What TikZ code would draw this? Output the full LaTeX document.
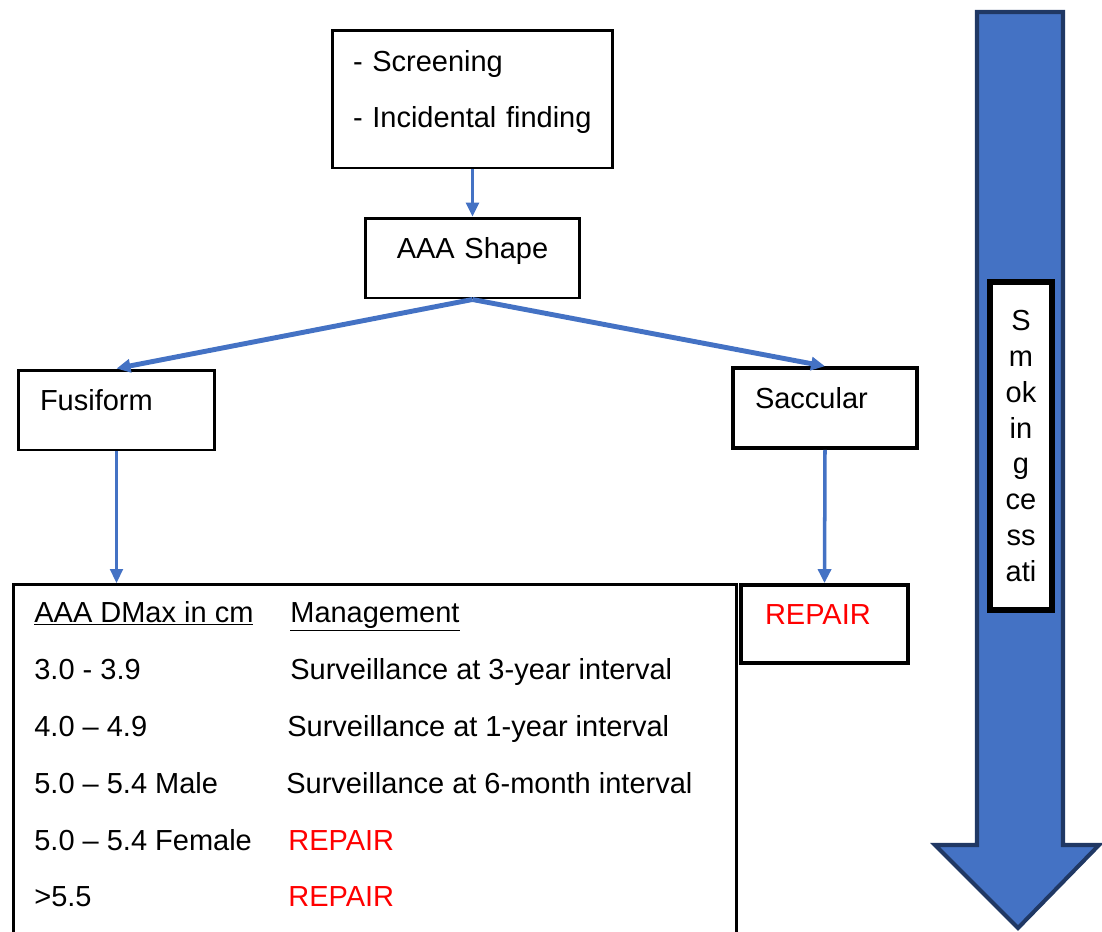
\documentclass[tikz,border=0pt]{standalone}
\usepackage{fontspec}
\setmainfont{Liberation Sans}
\usetikzlibrary{arrows.meta}
\definecolor{wordblue}{HTML}{4472C4}
\definecolor{navy}{HTML}{203864}
\newcommand\txt{\fontsize{16.5}{20}\selectfont}

\begin{document}
\begin{tikzpicture}[x=0.02cm, y=-0.02cm, font=\txt,
box/.style={draw, line width=1.7pt, inner xsep=0.44cm, inner ysep=0pt, align=left, text height=0.8cm, text depth=0.8cm},
link/.style={wordblue, line width=1.7pt, -{Triangle[length=0.28cm, width=0.26cm]}},
row/.style={anchor=base west, inner sep=0pt}]
\useasboundingbox (0,0) rectangle (1102,931);
\clip (0,0) rectangle (1102,931);

\node[draw, line width=1.7pt, inner xsep=0.42cm, align=left, text width=4.78cm, minimum height=2.76cm, text depth=1.52cm,
  font=\fontsize{16.5}{31.9}\selectfont] (top) at (472.5,99) {- Screening\\- Incidental finding};
\node[box, align=center, text width=3.42cm] (shape) at (472.5,258) {AAA Shape};
\node[box, text width=3.06cm] (fus) at (116.5,410) {Fusiform};
\node[box, line width=2pt, text width=2.8cm] (sac) at (825,408) {Saccular};
\node[box, line width=2.2pt, inner xsep=0.48cm, text width=2.38cm, text height=0.78cm, text depth=0.78cm] (rep) at (824.5,624) {\color{red}REPAIR};
\node[draw, line width=1.7pt, anchor=north west, minimum width=14.46cm, minimum height=7.6cm] (tbl) at (12,583) {};

\node[row] (h1) at (34,622) {\underline{AAA DMax in cm}};
\node[row] (h2) at (290,622) {\underline{Management}};
\node[row] (a1) at (34,679) {3.0 - 3.9};
\node[row] (b1) at (290,679) {Surveillance at 3-year interval};
\node[row] (a2) at (34,736) {4.0 – 4.9};
\node[row] (b2) at (287,736) {Surveillance at 1-year interval};
\node[row] (a3) at (34,793) {5.0 – 5.4 Male};
\node[row] (b3) at (286,793) {Surveillance at 6-month interval};
\node[row] (a4) at (34,850) {5.0 – 5.4 Female};
\node[row, red] (b4) at (288,850) {REPAIR};
\node[row] (a5) at (34,906) {>5.5};
\node[row, red] (b5) at (288,906) {REPAIR};

\draw[link] (top) -- (shape);
\draw[link, line width=2.8pt] (shape.south) -- (fus.north);
\draw[link, line width=2.8pt] (shape.south) -- (sac.north);
\draw[link, line width=1.2pt] (fus.south) -- (fus.south |- tbl.north);
\draw[link, line width=2pt] (sac.south) -- (rep.north);

\draw[navy, line width=2.3pt, fill=wordblue] (977,12) -- (1063,12) -- (1063,845) -- (1099,845) -- (1018,928) -- (935,845) -- (977,845) -- cycle;
\node[draw, fill=white, line width=3pt, minimum width=1.24cm, minimum height=6.56cm, inner sep=0pt, align=center,
  font=\fontsize{16.5}{20.4}\selectfont] (quit) at (1021,446) {S\\m\\ok\\in\\g\\ce\\ss\\ati};
\end{tikzpicture}
\end{document}
